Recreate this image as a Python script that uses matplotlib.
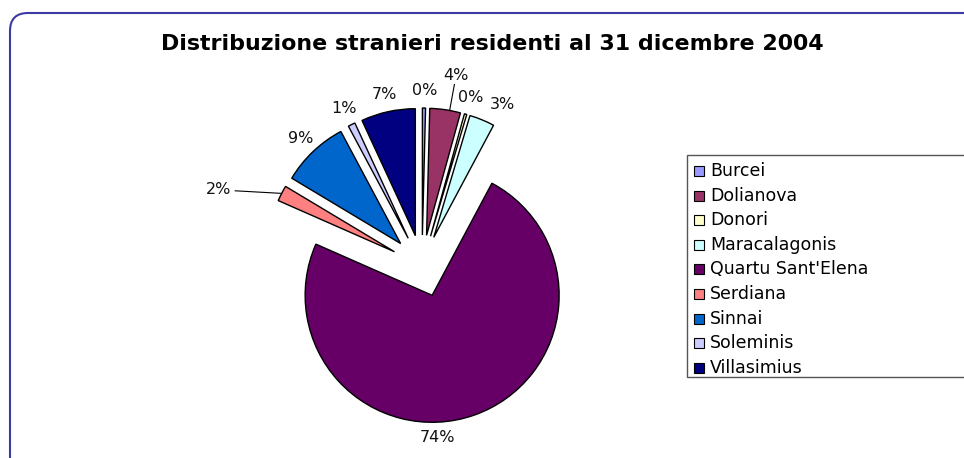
import numpy as np
import matplotlib
matplotlib.use("Agg")
import matplotlib.pyplot as plt
from matplotlib.patches import FancyBboxPatch, Rectangle

# dati (percentuali)
comuni = ["Burcei", "Dolianova", "Donori", "Maracalagonis", "Quartu Sant'Elena",
          "Serdiana", "Sinnai", "Soleminis", "Villasimius"]
quote = [0.4, 3.9, 0.3, 3.2, 73.8, 2.0, 8.6, 0.9, 6.9]
colori = ["#9999FF", "#993366", "#FFFFCC", "#CCFFFF", "#660066",
          "#FF8080", "#0066CC", "#CCCCFF", "#000080"]
titolo = "Distribuzione stranieri residenti al 31 dicembre 2004"

W, H = 964, 458
R = 127

fig = plt.figure(figsize=(W / 100, H / 100), dpi=100)
ax = fig.add_axes([0, 0, 1, 1])

wedges, _ = ax.pie(quote, colors=colori, startangle=90, counterclock=False,
                   radius=R, center=(422, H - 266), explode=[31] * len(quote),
                   frame=True,
                   wedgeprops=dict(edgecolor="black", linewidth=1))

# etichette: distanza (in raggi) e spostamento angolare come in Excel
lab_dist = {1: 1.28, 3: 1.18, 4: 1.12, 5: 1.47}
lab_rot = {1: -2, 3: -5, 4: -17, 5: 8}
leader = [1, 5]

for i, (w, q) in enumerate(zip(wedges, quote)):
    cx, cy = w.center
    tm = 0.5 * (w.theta1 + w.theta2)
    ta = np.deg2rad(tm + lab_rot.get(i, 0))
    d = lab_dist.get(i, 1.14) * R
    tx, ty = cx + d * np.cos(ta), cy + d * np.sin(ta)
    ax.text(tx, ty, f"{round(q)}%", ha="center", va="center", fontsize=11.5,
            color="#111111")
    if i in leader:
        la = ta if i == 1 else np.deg2rad(tm)
        px, py = cx + R * np.cos(la), cy + R * np.sin(la)
        vx, vy = px - tx, py - ty
        n = np.hypot(vx, vy)
        ux, uy = vx / n, vy / n
        gap = 1 / np.sqrt((ux / 17) ** 2 + (uy / 9) ** 2)
        ax.plot([tx + ux * gap, px], [ty + uy * gap, py], color="black", lw=0.8)

# legenda disegnata a mano (il riquadro esce dal bordo destro)
ax.add_patch(Rectangle((687, H - 377), 320, 222, facecolor="white",
                       edgecolor="#555555", lw=1))
for i, (nome, col) in enumerate(zip(comuni, colori)):
    y = H - (171 + i * 24.6)
    ax.add_patch(Rectangle((694, y - 5), 10, 10, facecolor=col,
                           edgecolor="black", lw=0.8))
    ax.text(710, y, nome, ha="left", va="center", fontsize=12.5)

# cornice arrotondata del grafico
ax.add_patch(FancyBboxPatch((10, -60), 1060, H - 13 + 60,
                            boxstyle="round,pad=0,rounding_size=18",
                            facecolor="none", edgecolor="#3b3ba3", lw=1.5))

ax.set_xlim(0, W)
ax.set_ylim(0, H)
ax.set_aspect("equal")
ax.axis("off")

fig.text(492 / W, 1 - 44 / H, titolo, ha="center", va="center",
         fontsize=15.9, fontweight="bold")

fig.savefig("out.png", dpi=100)
